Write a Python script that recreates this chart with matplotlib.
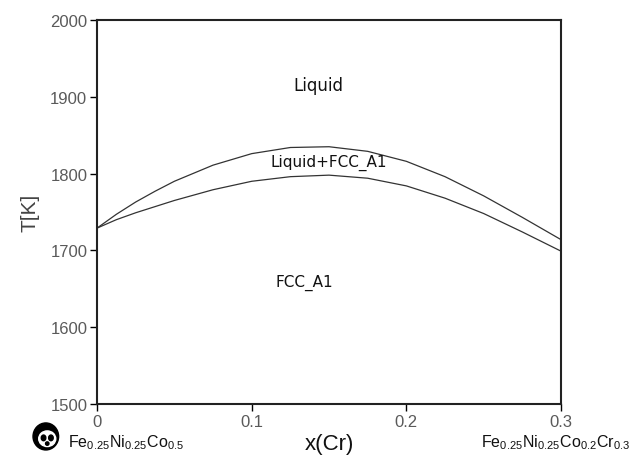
import numpy as np
import matplotlib
matplotlib.use('Agg')
import matplotlib.pyplot as plt
from matplotlib.patches import Circle, Ellipse

# composition x(Cr) and phase boundaries
x_cr = [0, 0.0125, 0.025, 0.0375, 0.05, 0.075, 0.1, 0.125, 0.15, 0.175, 0.2, 0.225, 0.25, 0.275, 0.3]
liquidus = [1729, 1747, 1763, 1777, 1790, 1811, 1826, 1834, 1835, 1829, 1816, 1796, 1771, 1743, 1714]
solidus = [1729, 1740, 1749, 1757, 1765, 1779, 1790, 1796, 1798, 1794, 1784, 1768, 1748, 1724, 1699]

x_ticks = [0, 0.1, 0.2, 0.3]
x_ticklabels = ['0', '0.1', '0.2', '0.3']
y_ticks = [1500, 1600, 1700, 1800, 1900, 2000]

phase_labels = ['Liquid', 'Liquid+FCC_A1', 'FCC_A1']
phase_x = [0.143, 0.150, 0.134]
phase_y = [1915, 1815, 1659]

plt.rcParams['font.family'] = ['Liberation Sans', 'DejaVu Sans']
plt.rcParams['mathtext.default'] = 'regular'

fig = plt.figure(figsize=(6.32, 4.6), dpi=100)
ax = fig.add_axes([0.1535, 0.1196, 0.7342, 0.8347])

ax.plot(x_cr, liquidus, color='#333333', lw=0.9)
ax.plot(x_cr, solidus, color='#333333', lw=0.9)

for s, xx, yy in zip(phase_labels, phase_x, phase_y):
    ax.text(xx, yy, s, ha='center', va='center', fontsize=12 if s == 'Liquid' else 11,
            family=['DejaVu Sans'], color='#111111')

ax.set_xlim(0, 0.3)
ax.set_ylim(1500, 2000)
ax.set_xticks(x_ticks)
ax.set_xticklabels(x_ticklabels)
ax.set_yticks(y_ticks)
ax.tick_params(direction='out', length=5, width=1.0, labelsize=12,
               labelcolor='#5a5a5a', pad=2)
for sp in ax.spines.values():
    sp.set_linewidth(1.5)
    sp.set_color('#222222')

ax.set_ylabel('T[K]', fontsize=15, color='#444444', labelpad=8)
ax.set_xlabel('x(Cr)', fontsize=16, color='#111111')
ax.xaxis.set_label_coords(0.5, -0.075)

fig.text(0.108, 0.037, r'Fe$_{0.25}$Ni$_{0.25}$Co$_{0.5}$', fontsize=11.5,
         color='#111111', va='center')
fig.text(0.997, 0.037, r'Fe$_{0.25}$Ni$_{0.25}$Co$_{0.2}$Cr$_{0.3}$', fontsize=11.5,
         color='#111111', va='center', ha='right')

# small panda logo
pax = fig.add_axes([0.05, 0.015, 0.045, 0.068])
pax.set_xlim(0, 1)
pax.set_ylim(0, 1)
pax.set_aspect('equal')
pax.axis('off')
pax.add_patch(Ellipse((0.5, 0.5), 0.9, 0.95, color='black'))
pax.add_patch(Ellipse((0.55, 0.42), 0.6, 0.55, color='white'))
pax.add_patch(Ellipse((0.42, 0.45), 0.16, 0.2, color='black'))
pax.add_patch(Ellipse((0.68, 0.45), 0.16, 0.2, color='black'))
pax.add_patch(Circle((0.55, 0.25), 0.06, color='black'))

fig.savefig('out.png', dpi=100)
